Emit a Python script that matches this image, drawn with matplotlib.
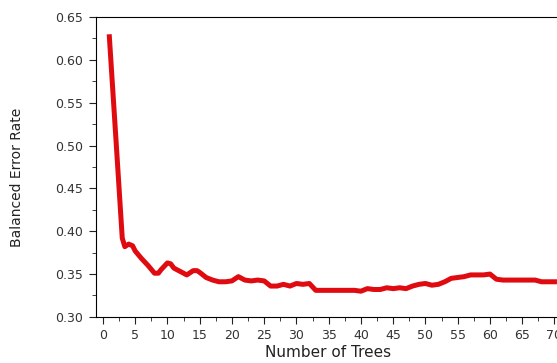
import numpy as np
import matplotlib.pyplot as plt
from matplotlib.ticker import MultipleLocator

plt.rcParams['font.family'] = ['DejaVu Sans']

# Error rate, one value per number of trees
trees = [1, 2, 3, 3.4, 4, 4.6, 5, 6, 7, 8, 8.6, 9, 10, 10.5, 11, 12, 13, 14, 14.6,
         15, 16, 17, 18, 19, 20, 21, 22, 23, 24, 25, 26, 27, 28, 29, 30, 31, 32,
         33, 34, 35, 36, 37, 38, 39, 40, 41, 42, 43, 44, 45, 46, 47, 48, 49, 50,
         51, 52, 53, 54, 55, 56, 57, 58, 59, 60, 61, 62, 63, 64, 65, 66, 67, 68,
         69, 70]
error = [0.627, 0.51, 0.392, 0.382, 0.385, 0.383, 0.377, 0.368, 0.360, 0.351, 0.351,
         0.355, 0.363, 0.362, 0.357, 0.353, 0.349, 0.354, 0.354,
         0.352, 0.346, 0.343, 0.341, 0.341, 0.342, 0.347, 0.343, 0.342, 0.343,
         0.342, 0.336, 0.336, 0.338, 0.336, 0.339, 0.338, 0.339,
         0.331, 0.331, 0.331, 0.331, 0.331, 0.331, 0.331, 0.330, 0.333, 0.332,
         0.332, 0.334, 0.333, 0.334, 0.333, 0.336, 0.338, 0.339,
         0.337, 0.338, 0.341, 0.345, 0.346, 0.347, 0.349, 0.349, 0.349, 0.350,
         0.344, 0.343, 0.343, 0.343, 0.343, 0.343, 0.343, 0.341,
         0.341, 0.341]

fig = plt.figure(figsize=(5.57, 3.63), dpi=100)
ax = fig.add_axes([0.172, 0.127, 0.835, 0.826])
ax.plot(trees, error, color='#e00b10', linewidth=3.6, solid_joinstyle='round')

ax.set_xlim(-1.1, 71)
ax.set_ylim(0.30, 0.65)
ax.xaxis.set_major_locator(MultipleLocator(5))
ax.xaxis.set_minor_locator(MultipleLocator(2.5))
ax.yaxis.set_major_locator(MultipleLocator(0.05))
ax.yaxis.set_minor_locator(MultipleLocator(0.025))
ax.yaxis.set_major_formatter(plt.FormatStrFormatter('%.2f'))
ax.tick_params(which='both', direction='out', labelsize=9, color='#222222',
               labelcolor='#333333', pad=4)
ax.tick_params(which='major', length=5)
ax.tick_params(which='minor', length=3)
ax.spines['right'].set_visible(False)

ax.set_xlabel('Number of Trees', fontsize=11, color='#222222', labelpad=2)
ax.set_ylabel('Balanced Error Rate', fontsize=10, color='#222222')
# label sits a bit below the axes centre in the original
ax.yaxis.set_label_coords(-0.155, 0.465)

plt.savefig('out.png', dpi=100)
